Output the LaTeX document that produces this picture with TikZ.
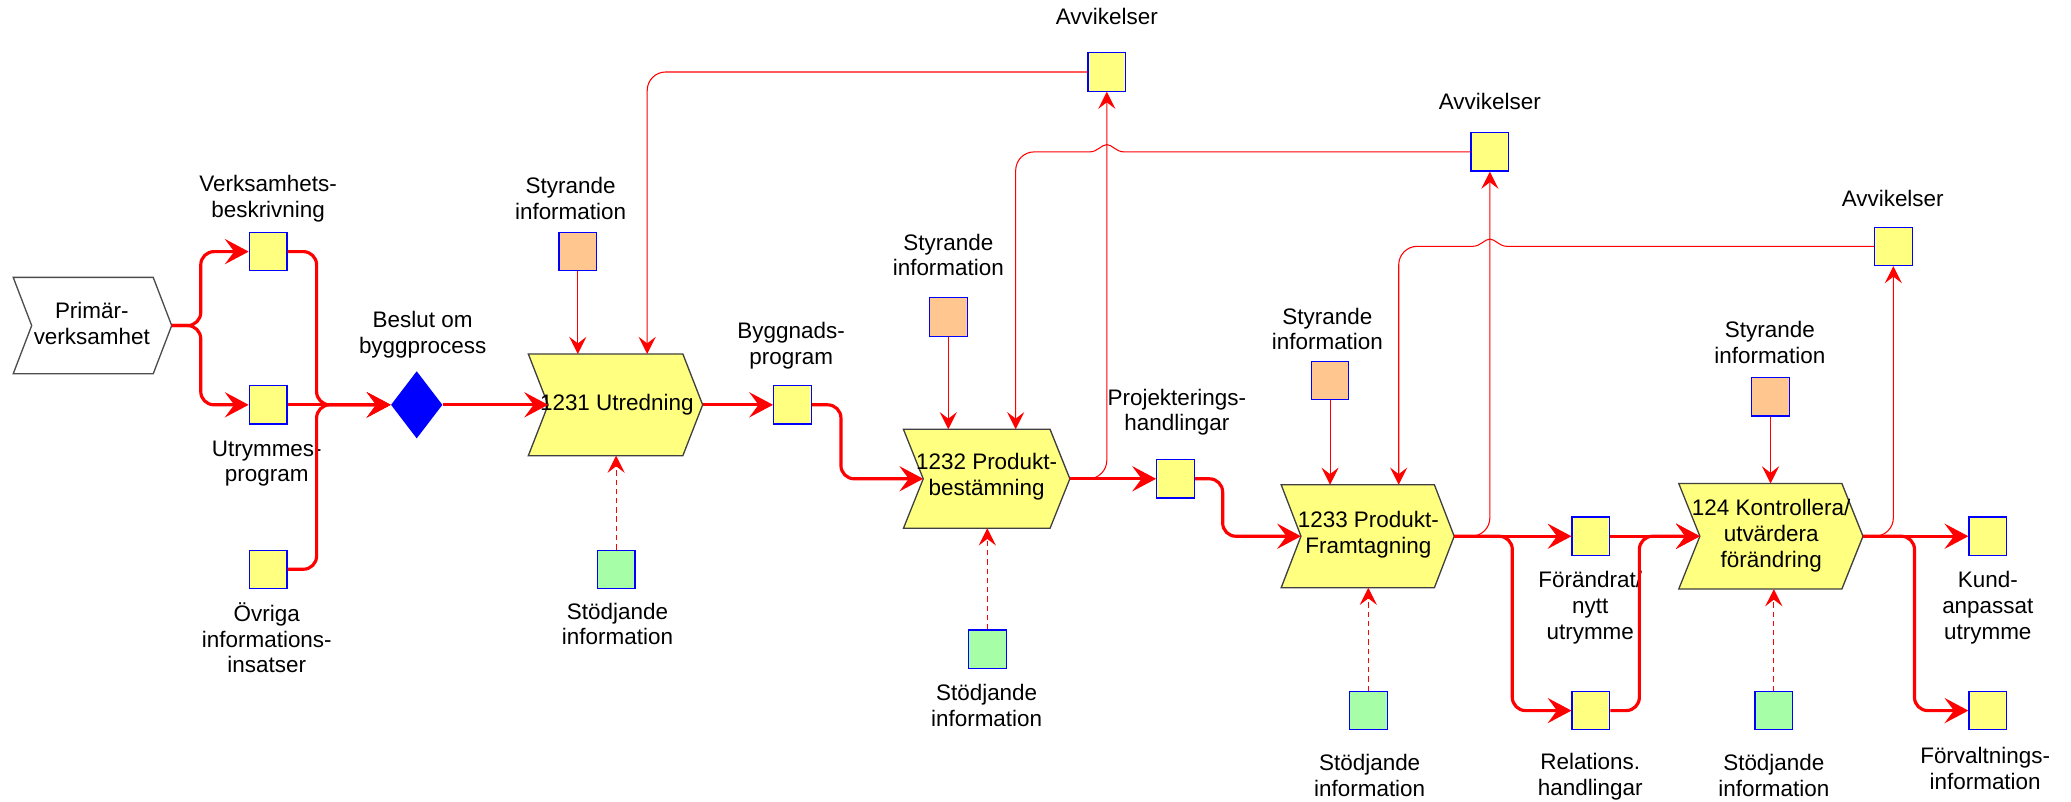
\documentclass[tikz,border=0pt]{standalone}
\usepackage{fontspec}
\setmainfont{Liberation Sans}
\usetikzlibrary{shapes.geometric,arrows.meta,calc}
\definecolor{boxyellow}{HTML}{FFFF80}
\definecolor{boxorange}{HTML}{FFC690}
\definecolor{boxgreen}{HTML}{A6FFA6}
\definecolor{lred}{HTML}{FF0000}
\tikzset{
  infobox/.style={draw=blue, line width=0.9pt, minimum width=28.5pt, minimum height=29pt, inner sep=0pt},
  yb/.style={infobox, fill=boxyellow},
  ob/.style={infobox, fill=boxorange},
  gb/.style={infobox, fill=boxgreen},
  lbl/.style={align=center, inner sep=0pt, font=\fontsize{17}{19.5}\selectfont},
  flow/.style={draw=lred, line width=2.4pt, rounded corners=10pt, line join=round,
    -{Stealth[length=18pt,width=19pt,inset=7pt]}},
  ctrl/.style={draw=lred, line width=0.8pt, -{Stealth[length=13pt,width=13pt,inset=5pt]}},
  supp/.style={ctrl, dash pattern=on 4pt off 3pt},
  chevbody/.style={fill=boxyellow, draw=black!75, line width=1pt},
  chevwhite/.style={fill=white, draw=black!70, line width=1pt},
}
% #1 name, #2 left x, #3 corner x, #4 top y, #5 bottom y, #6 tip depth, #7 style
\newcommand\mychev[7]{%
  \path[#7] (#2,#4) -- (#3,#4) -- ({#3+#6},{(#4+#5)/2}) -- (#3,#5) -- (#2,#5)
     -- ({#2+#6},{(#4+#5)/2}) -- cycle;
  \coordinate (#1-tip) at ({#3+#6},{(#4+#5)/2});
  \coordinate (#1-notch) at ({#2+#6},{(#4+#5)/2});
  \coordinate (#1-top) at (#2,#4);
  \coordinate (#1-bot) at (#2,#5);
}
% bridge over a vertical line at coordinate #1 (path drawn right to left)
\newcommand\bridgeat[1]{-- ($(#1)+(13,0)$) .. controls ($(#1)+(7,0)$) and ($(#1)+(4,-5.5)$) .. ($(#1)+(0,-5.5)$)
  .. controls ($(#1)+(-4,-5.5)$) and ($(#1)+(-7,0)$) .. ($(#1)+(-13,0)$)}
\begin{document}
\begin{tikzpicture}[x=1pt,y=-1pt]
\useasboundingbox (0,0) rectangle (1568,607);

% chevrons
\mychev{p}{10}{116}{210}{283}{14}{chevwhite}
\node[lbl] (pt) at (69.5,245) {Primär-\\verksamhet};
\mychev{u}{400}{517}{268}{345}{15}{chevbody}
\node[lbl] (ut) at (467,306.5) {1231 Utredning};
\mychev{pb}{684}{795}{325}{400}{15}{chevbody}
\node[lbl] (pbt) at (747,361) {1232 Produkt-\\bestämning};
\mychev{f}{970}{1086}{367}{445}{15}{chevbody}
\node[lbl] (ft) at (1036,405) {1233 Produkt-\\Framtagning};
\mychev{k}{1271}{1394.5}{366}{446}{16}{chevbody}
\node[lbl] (kt) at (1341,405.5) {124 Kontrollera/\\utvärdera\\förändring};

\coordinate (u-in) at (490,268);
\coordinate (pb-in) at (769,325);
\coordinate (f-in) at (1059,367);

% boxes
\node[yb] (vb) at (203,190.5) {};
\node[yb] (ub) at (203,306.5) {};
\node[yb] (ovb) at (203,431) {};
\node[diamond, fill=blue, minimum width=39pt, minimum height=51pt, inner sep=0pt] (d) at (315.5,306.5) {};
\node[ob] (s1) at (437.5,190.5) {};
\node[gb] (g1) at (466.5,431) {};
\node[yb] (a1) at (838,54.5) {};
\node[yb] (bb) at (600,306.5) {};
\node[ob] (s2) at (718,240) {};
\node[gb] (g2) at (747.5,491.5) {};
\node[yb] (pj) at (890,362.5) {};
\node[yb] (a2) at (1128,115) {};
\node[ob] (s3) at (1007,288) {};
\node[gb] (g3) at (1036,538) {};
\node[yb] (fn) at (1204.5,406) {};
\node[yb] (rh) at (1204.5,538) {};
\node[yb] (a3) at (1433.5,186.5) {};
\node[ob] (s4) at (1340.5,300.5) {};
\node[gb] (g4) at (1343,538) {};
\node[yb] (kb) at (1505,406) {};
\node[yb] (fv) at (1505,538) {};

% labels
\node[lbl] (l-vb) at (203,150.5) {Verksamhets-\\beskrivning};
\node[lbl] (l-ub) at (202,351) {Utrymmes-\\program};
\node[lbl] (l-ovb) at (202,483) {Övriga\\informations-\\insatser};
\node[lbl] (l-d) at (320,253.5) {Beslut om\\byggprocess};
\node[lbl] (l-s1) at (432,150) {Styrande\\information};
\node[lbl] (l-g1) at (467.5,472.5) {Stödjande\\information};
\node[lbl] (l-a1) at (838,12.6) {Avvikelser};
\node[lbl] (l-bb) at (599,262) {Byggnads-\\program};
\node[lbl] (l-s2) at (718,193) {Styrande\\information};
\node[lbl] (l-g2) at (747,534) {Stödjande\\information};
\node[lbl] (l-pj) at (891,312) {Projekterings-\\handlingar};
\node[lbl] (l-a2) at (1128,77) {Avvikelser};
\node[lbl] (l-s3) at (1005,249) {Styrande\\information};
\node[lbl] (l-g3) at (1037,587) {Stödjande\\information};
\node[lbl] (l-fn) at (1204,460) {Förändrat/\\nytt\\utrymme};
\node[lbl] (l-rh) at (1204,588) {Relations.\\handlingar};
\node[lbl] (l-a3) at (1433,150) {Avvikelser};
\node[lbl] (l-s4) at (1340,259.5) {Styrande\\information};
\node[lbl] (l-g4) at (1343,587) {Stödjande\\information};
\node[lbl] (l-kb) at (1505,460) {Kund-\\anpassat\\utrymme};
\node[lbl] (l-fv) at (1503,582) {Förvaltnings-\\information};

% main flow
\draw[flow] (p-tip) -- ++(22,0) |- (vb.west);
\draw[flow] (p-tip) -- ++(22,0) |- (ub.west);
\draw[flow] (vb.east) -- ++(22,0) |- (d.west);
\draw[flow] (ub.east) -- (d.west);
\draw[flow] (ovb.east) -- ++(22,0) |- (d.west);
\draw[flow] (d.east) -- (u-notch);
\draw[flow] (u-tip) -- (bb.west);
\draw[flow] (bb.east) -- ++(22,0) |- (pb-notch);
\draw[flow] (pb-tip) -- (pj.west);
\draw[flow] (pj.east) -- ++(21,0) |- (f-notch);
\draw[flow] (f-tip) -- (fn.west);
\draw[flow] (f-tip) -- ++(44,0) |- (rh.west);
\draw[flow] (fn.east) -- (k-notch);
\draw[flow] (rh.east) -- ++(22,0) |- (k-notch);
\draw[flow] (k-tip) -- (kb.west);
\draw[flow] (k-tip) -- ++(39,0) |- (fv.west);

% control information
\draw[ctrl] (s1.south) -- (s1.south |- u-top);
\draw[ctrl] (s2.south) -- (s2.south |- pb-top);
\draw[ctrl] (s3.south) -- (s3.south |- f-top);
\draw[ctrl] (s4.south) -- (s4.south |- k-top);

% support information
\draw[supp] (g1.north) -- (g1.north |- u-bot);
\draw[supp] (g2.north) -- (g2.north |- pb-bot);
\draw[supp] (g3.north) -- (g3.north |- f-bot);
\draw[supp] (g4.north) -- (g4.north |- k-bot);

% deviations
\coordinate (x1) at (a1.south |- a2.west);
\coordinate (x2) at (a2.south |- a3.west);
\draw[ctrl, rounded corners=14pt] (pb-tip) -| (a1.south);
\draw[ctrl, rounded corners=14pt] (f-tip) -| (a2.south);
\draw[ctrl, rounded corners=14pt] (k-tip) -| (a3.south);
\draw[ctrl, rounded corners=14pt] (a1.west) -| (u-in);
\draw[ctrl] (a2.west) \bridgeat{x1} [rounded corners=14pt] -| (pb-in);
\draw[ctrl] (a3.west) \bridgeat{x2} [rounded corners=14pt] -| (f-in);
\end{tikzpicture}
\end{document}
